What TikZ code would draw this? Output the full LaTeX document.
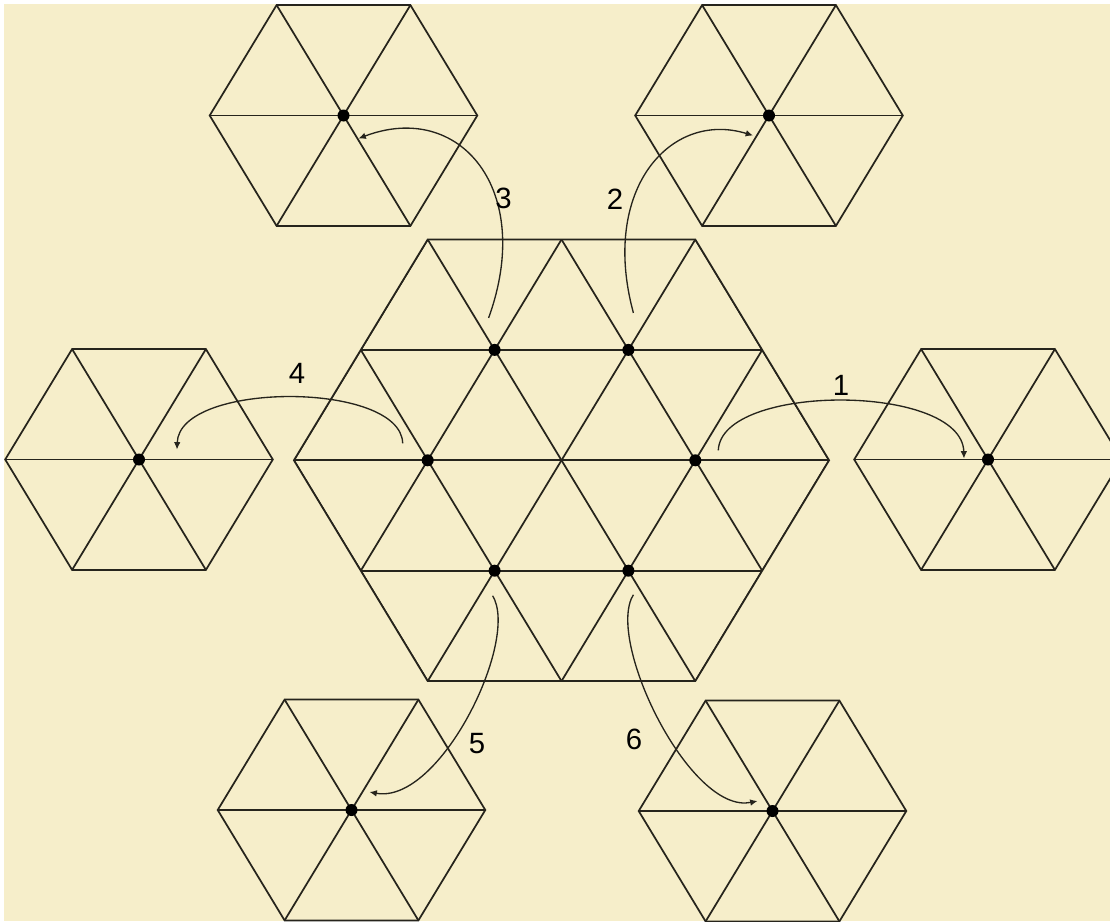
\documentclass[tikz,border=0pt]{standalone}
\usepackage{fontspec}
\setmainfont{Liberation Sans}
\usetikzlibrary{calc,arrows.meta}
\definecolor{bg}{RGB}{246,238,202}
\definecolor{ink}{RGB}{38,36,28}
\begin{document}
\begin{tikzpicture}[x=0.75pt,y=-0.75pt,
  edge/.style={draw=ink, line width=1.3pt},
  dot/.style={circle, fill=black, inner sep=0pt, minimum size=9pt},
  move/.style={draw=ink, line width=1pt, -{Latex[length=5.5pt,width=5pt]}},
  num/.style={font=\fontsize{22}{25}\selectfont, text=black, inner sep=0pt}]
\useasboundingbox (0,0) rectangle (1110,921);
\fill[white] (0,0) rectangle (1110,921);
\fill[bg] (4,4) rectangle (1110,921);
\begin{scope}
\clip (0,0) rectangle (1110,921);
% central hexagon with triangular grid
\begin{scope}
\clip (427.7,239.5) -- (695.3,239.5) -- (829.1,460.3) -- (695.3,681.1) -- (427.7,681.1) -- (293.9,460.3) -- cycle;
\foreach \k in {-2,...,2} {
  \draw[edge] (161.5, {460.3+110.4*\k}) -- (961.5, {460.3+110.4*\k});
  \draw[edge] ({561.5+133.8*\k-200.7}, 791.5) -- ({561.5+133.8*\k+200.7}, 129.1);
  \draw[edge] ({561.5+133.8*\k+200.7}, 791.5) -- ({561.5+133.8*\k-200.7}, 129.1);
}
\end{scope}
\draw[edge] (427.7,239.5) -- (695.3,239.5) -- (829.1,460.3) -- (695.3,681.1) -- (427.7,681.1) -- (293.9,460.3) -- cycle;
% small hexagons
\coordinate (p1) at (988,459.5);
\coordinate (p2) at (769,115.5);
\coordinate (p3) at (343.5,115.5);
\coordinate (p4) at (139,459.5);
\coordinate (p5) at (351.5,810);
\coordinate (p6) at (772.5,811);
\foreach \n in {p1,p2,p3,p4,p5,p6} {
  \draw[edge] ($(\n)+(-133.8,0)$) -- ($(\n)+(-66.9,-110.4)$) -- ($(\n)+(66.9,-110.4)$) -- ($(\n)+(133.8,0)$) -- ($(\n)+(66.9,110.4)$) -- ($(\n)+(-66.9,110.4)$) -- cycle;
  \draw[edge] ($(\n)+(-133.8,0)$) -- ($(\n)+(133.8,0)$);
  \draw[edge] ($(\n)+(-66.9,-110.4)$) -- ($(\n)+(66.9,110.4)$);
  \draw[edge] ($(\n)+(66.9,-110.4)$) -- ($(\n)+(-66.9,110.4)$);
}
\end{scope}
% dots
\node[dot] (c1) at (695.3,460.3) {};
\node[dot] (c2) at (628.4,349.9) {};
\node[dot] (c3) at (494.6,349.9) {};
\node[dot] (c4) at (427.7,460.3) {};
\node[dot] (c5) at (494.6,570.7) {};
\node[dot] (c6) at (628.4,570.7) {};
\node[dot] (h1) at (p1) {};
\node[dot] (h2) at (p2) {};
\node[dot] (h3) at (p3) {};
\node[dot] (h4) at (p4) {};
\node[dot] (h5) at (p5) {};
\node[dot] (h6) at (p6) {};
% arrow ends
\coordinate (s1) at ($(c1)+(23,-10)$);
\coordinate (e1) at ($(h1)+(-24,-1)$);
\coordinate (s2) at ($(c2)+(5,-37)$);
\coordinate (e2) at ($(h2)+(-16,20)$);
\coordinate (s3) at ($(c3)+(-6,-32)$);
\coordinate (e3) at ($(h3)+(15,23)$);
\coordinate (s4) at ($(c4)+(-25,-17)$);
\coordinate (e4) at ($(h4)+(38,-10)$);
\coordinate (s5) at ($(c5)+(-2,25)$);
\coordinate (e5) at ($(h5)+(18,-18)$);
\coordinate (s6) at ($(c6)+(5,24)$);
\coordinate (e6) at ($(h6)+(-15,-10)$);
% arrows
\draw[move] (s1) .. controls (721,383) and (962,383) .. (e1);
\draw[move] (s2) .. controls (600,190) and (670,110) .. (e2);
\draw[move] (s3) .. controls (535,190) and (460,100) .. (e3);
\draw[move] (s4) .. controls (401,381) and (179,381) .. (e4);
\draw[move] (s5) .. controls (520,640) and (440,805) .. (e5);
\draw[move] (s6) .. controls (605,640) and (690,815) .. (e6);
% labels
\node[num] (l1) at (841,385) {1};
\node[num] (l2) at (615,199) {2};
\node[num] (l3) at (503.5,198) {3};
\node[num] (l4) at (297,373) {4};
\node[num] (l5) at (477,744) {5};
\node[num] (l6) at (634,739) {6};
\end{tikzpicture}
\end{document}
